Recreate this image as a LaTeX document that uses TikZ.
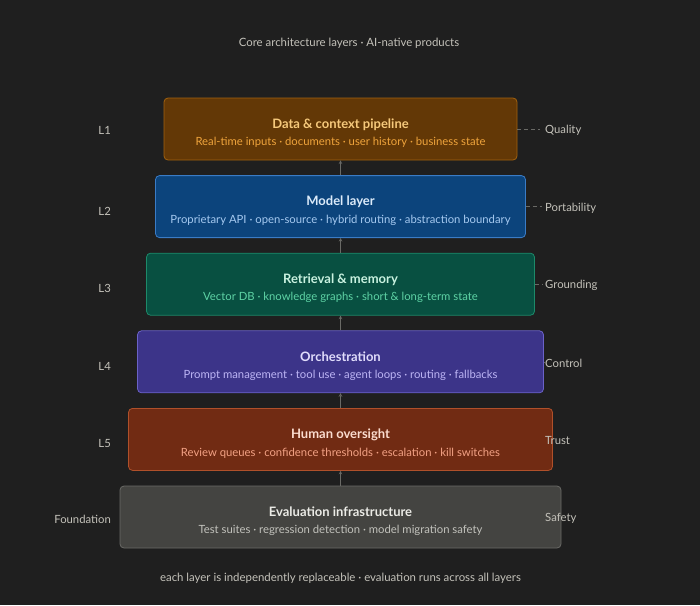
\documentclass[tikz,border=0pt]{standalone}
\usepackage{fontspec}
\setmainfont{Lato}
\usetikzlibrary{positioning}

\definecolor{bg}{HTML}{1F1F1F}
\definecolor{sidetxt}{HTML}{C4C2BA}
\definecolor{wire}{HTML}{6A6A66}
% layer colours: fill, border, title, subtitle
\definecolor{amberF}{HTML}{633806}\definecolor{amberD}{HTML}{A2620F}
\definecolor{amberT}{HTML}{F6C97C}\definecolor{amberS}{HTML}{EFA43C}
\definecolor{blueF}{HTML}{0C447C}\definecolor{blueD}{HTML}{3A7CC6}
\definecolor{blueT}{HTML}{DCEBFA}\definecolor{blueS}{HTML}{A5C9F0}
\definecolor{tealF}{HTML}{085041}\definecolor{tealD}{HTML}{1D8A6A}
\definecolor{tealT}{HTML}{C9F2E0}\definecolor{tealS}{HTML}{5ED3A5}
\definecolor{purpF}{HTML}{3C3489}\definecolor{purpD}{HTML}{6B62C8}
\definecolor{purpT}{HTML}{E0DCFB}\definecolor{purpS}{HTML}{BDB5F5}
\definecolor{rustF}{HTML}{712B13}\definecolor{rustD}{HTML}{B0502A}
\definecolor{rustT}{HTML}{FBDCCF}\definecolor{rustS}{HTML}{F2A184}
\definecolor{greyF}{HTML}{444441}\definecolor{greyD}{HTML}{6A6A66}
\definecolor{greyT}{HTML}{EBEBE6}\definecolor{greyS}{HTML}{C2C2BC}

\newcommand{\layertext}[4]{\rule{0pt}{18pt}{\color{#1}\fontsize{13}{15}\selectfont\bfseries #2}\\[5.5pt]{\color{#3}\fontsize{11.3}{13}\selectfont #4}}

\begin{document}
\begin{tikzpicture}[x=1pt, y=-1pt,  node distance=14.8pt,  layer/.style={    rectangle,    rounded corners=4pt,    line width=0.8pt,    minimum height=62pt,    align=center,    inner sep=0pt  },  side/.style={    text=sidetxt,    inner sep=0pt,    font=\fontsize{11.3}{13}\selectfont  },  note/.style={    text=sidetxt,    font=\fontsize{11.4}{13}\selectfont  },  link/.style={    wire,    dashed,    dash pattern=on 4pt off 3pt,    line width=0.6pt  },  arrow/.style={    ->,    >=stealth,    wire,    line width=0.6pt  }]
		\fill[bg] (0,0) rectangle (700,605);
		\useasboundingbox (0,0) rectangle (700,605);
		% Layers
		\node[layer, fill=amberF, draw=amberD, minimum width=353pt] (data) at (340.5,129) {\layertext{amberT}{Data \& context pipeline}{amberS}{Real-time inputs · documents · user history · business state}};
		\node[layer, fill=blueF, draw=blueD, minimum width=370pt, below=of data] (model) {\layertext{blueT}{Model layer}{blueS}{Proprietary API · open-source · hybrid routing · abstraction boundary}};
		\node[layer, fill=tealF, draw=tealD, minimum width=388pt, below=of model] (retr) {\layertext{tealT}{Retrieval \& memory}{tealS}{Vector DB · knowledge graphs · short \& long-term state}};
		\node[layer, fill=purpF, draw=purpD, minimum width=406pt, below=of retr] (orch) {\layertext{purpT}{Orchestration}{purpS}{Prompt management · tool use · agent loops · routing · fallbacks}};
		\node[layer, fill=rustF, draw=rustD, minimum width=424pt, below=of orch] (human) {\layertext{rustT}{Human oversight}{rustS}{Review queues · confidence thresholds · escalation · kill switches}};
		\node[layer, fill=greyF, draw=greyD, minimum width=441pt, below=of human] (eval) {\layertext{greyT}{Evaluation infrastructure}{greyS}{Test suites · regression detection · model migration safety}};
		% Arrows
		\draw[arrow] (model.north) -- (data.south);
		\draw[arrow] (retr.north) -- (model.south);
		\draw[arrow] (orch.north) -- (retr.south);
		\draw[arrow] (human.north) -- (orch.south);
		\draw[arrow] (eval.north) -- (human.south);
		% Labels
		\node[side, anchor=east] (l1) at ([yshift=-1.5pt] 111,0 |- data) {L1};
		\node[side, anchor=east] (l2) at ([yshift=-4.5pt] 111,0 |- model) {L2};
		\node[side, anchor=east] (l3) at ([yshift=-4.5pt] 111,0 |- retr) {L3};
		\node[side, anchor=east] (l4) at ([yshift=-4.5pt] 111,0 |- orch) {L4};
		\node[side, anchor=east] (l5) at ([yshift=-4.5pt] 111,0 |- human) {L5};
		\node[side, anchor=east] (lf) at ([yshift=-2.5pt] 111,0 |- eval) {Foundation};
		\node[side, anchor=west] (quality) at ([yshift=-1.5pt] 545,0 |- data) {Quality};
		\node[side, anchor=west] (port) at ([yshift=-1.5pt] 545,0 |- model) {Portability};
		\node[side, anchor=west] (ground) at ([yshift=-1.5pt] 545,0 |- retr) {Grounding};
		\node[side, anchor=west] (control) at ([yshift=-1.5pt] 545,0 |- orch) {Control};
		\node[side, anchor=west] (trust) at ([yshift=-1.5pt] 545,0 |- human) {Trust};
		\node[side, anchor=west] (safety) at ([yshift=-1.5pt] 545,0 |- eval) {Safety};
		\draw[link] (data.east) -- ([xshift=-5pt] data.east -| quality.west);
		\draw[link] (model.east) -- ([xshift=-3pt] model.east -| port.west);
		\draw[link] (retr.east) -- ([xshift=-3pt] retr.east -| ground.west);
		\draw[link] (orch.east) -- (orch.east -| control.west);
		\node[note] (title) at (349,43) {Core architecture layers · AI-native products};
		\node[note] (footer) at (340.5,578) {each layer is independently replaceable · evaluation runs across all layers};
	\end{tikzpicture}
\end{document}
